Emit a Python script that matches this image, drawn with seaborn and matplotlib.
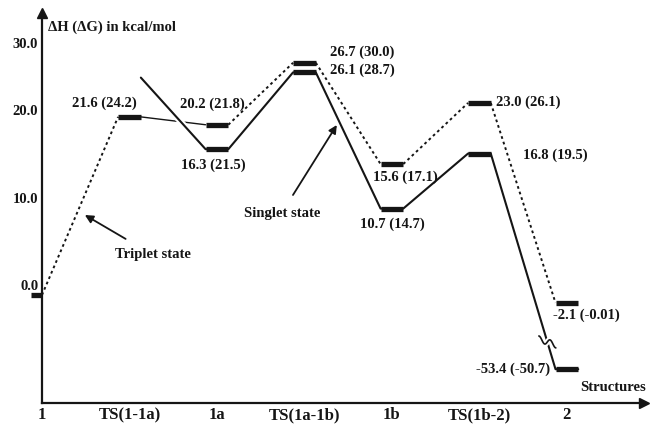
import numpy as np
import matplotlib
matplotlib.use("Agg")
import matplotlib.pyplot as plt
import matplotlib.patheffects as pe
from matplotlib.transforms import ScaledTranslation
import seaborn as sns

sns.set_theme(style="white")
plt.rcParams["font.family"] = ["Liberation Serif", "DejaVu Serif"]
plt.rcParams["font.weight"] = "bold"

# structures along the reaction coordinate
structures = ["1", "TS(1-1a)", "1a", "TS(1a-1b)", "1b", "TS(1b-2)", "2"]

# heights of the levels as drawn in the (schematic) diagram
triplet_levels = [0.0, 20.4, 19.5, 26.6, 15.0, 22.0, -0.9]
triplet_labels = ["", "21.6 (24.2)", "20.2 (21.8)", "26.7 (30.0)",
                  "15.6 (17.1)", "23.0 (26.1)", "-2.1 (-0.01)"]
triplet_links = [":", "-", ":", ":", ":", ":"]

singlet_start = 24.9
singlet_levels = [np.nan, np.nan, 16.7, 25.5, 9.9, 16.2, -8.5]
singlet_labels = ["", "", "16.3 (21.5)", "26.1 (28.7)",
                  "10.7 (14.7)", "16.8 (19.5)", "-53.4 (-50.7)"]

yticks = [0.0, 10.0, 20.0, 30.0]

# label placement (offset in pixels from the bar centre, alignment)
triplet_pos = [None, (-25, 14, "center"), (-5, 20, "center"), (26, 11, "left"),
               (13, -13, "center"), (17, 1, "left"), (-14, -12, "left")]
singlet_pos = [None, None, (-4, -16, "center"), (26, 2, "left"),
               (0, -16, "center"), (44, -2, "left"), (-17, 0, "right")]

ink = "#151515"
hw = 0.13          # half width of a level bar
x_axis_y = -12.37  # height where the x axis is drawn

fig = plt.figure(figsize=(6.5, 4.24), dpi=100)
ax = fig.add_axes([0, 0, 1, 1])
ax.set_xlim(-0.48, 6.95)
ax.set_ylim(-14.78, 33.79)

dotted = dict(color=ink, lw=1.4, linestyle=(0, (1.4, 1.6)))

# singlet path (solid), with a white halo so crossing lines look broken
sx = [1 + hw]
sy = [singlet_start]
for i, v in enumerate(singlet_levels):
    if not np.isnan(v):
        sx += [i - hw, i + hw]
        sy += [v, v]
sns.lineplot(x=sx, y=sy, sort=False, estimator=None, color=ink, lw=1.5, ax=ax,
             zorder=2,
             path_effects=[pe.Stroke(linewidth=4.5, foreground="white"), pe.Normal()])

# triplet path links
for i, style in enumerate(triplet_links):
    x_start = i if i == 0 else i + hw
    xs = [x_start, i + 1 - hw]
    ys = [triplet_levels[i], triplet_levels[i + 1]]
    if style == "-":
        ax.plot(xs, ys, color=ink, lw=1.0, zorder=1)
    else:
        ax.plot(xs, ys, zorder=3, **dotted)

# level bars
for i, v in enumerate(triplet_levels):
    right = i if i == 0 else i + hw
    ax.hlines(v, i - hw, right, color=ink, lw=3.8, zorder=4)
for i, v in enumerate(singlet_levels):
    if not np.isnan(v):
        ax.hlines(v, i - hw, i + hw, color=ink, lw=3.8, zorder=4)

# energy labels
for levels, labels, pos in [(triplet_levels, triplet_labels, triplet_pos),
                            (singlet_levels, singlet_labels, singlet_pos)]:
    for i, (v, lab, p) in enumerate(zip(levels, labels, pos)):
        if not lab:
            continue
        dx, dy, ha = p
        ax.annotate(lab, (i, v), xytext=(dx, dy), textcoords="offset pixels",
                    ha=ha, va="center", fontsize=10.5, fontweight="bold", color=ink)

# break mark on the singlet line towards 2
t = (singlet_levels[5] + 5.38) / (singlet_levels[5] - singlet_levels[6])
bx = 5 + hw + t * (1 - 2 * hw)
s = np.linspace(-8.5, 8.5, 60)
wx = bx + s / 87.5
wy = -5.38 + (3.0 * np.sin(2 * np.pi * s / 11) - 0.35 * s) / 8.73
ax.plot(wx, wy, color="white", lw=4, zorder=5, solid_capstyle="butt")
ax.plot(wx, wy, color=ink, lw=1.2, zorder=6)

# state annotations
ax.annotate("Triplet state", xy=(0.49, 9.16), xytext=(1.27, 4.58),
            ha="center", va="center", fontsize=10.5, fontweight="bold", color=ink,
            arrowprops=dict(arrowstyle="-|>", color=ink, lw=1.3, mutation_scale=12,
                            shrinkA=9, shrinkB=0))
ax.annotate("Singlet state", xy=(3.37, 19.47), xytext=(2.74, 9.39),
            ha="center", va="center", fontsize=10.5, fontweight="bold", color=ink,
            arrowprops=dict(arrowstyle="-|>", color=ink, lw=1.3, mutation_scale=12,
                            shrinkA=7, shrinkB=0))

# axes drawn as arrows
ax.spines[["top", "right"]].set_visible(False)
ax.spines["left"].set_position(("data", 0))
ax.spines["bottom"].set_position(("data", x_axis_y))
ax.spines["left"].set_bounds(x_axis_y, 32.0)
ax.spines["bottom"].set_bounds(0, 6.85)
for sp in ["left", "bottom"]:
    ax.spines[sp].set_color(ink)
    ax.spines[sp].set_linewidth(1.6)
ax.plot(0, 32.3, marker="^", ms=7, color=ink, clip_on=False, zorder=6)
ax.plot(6.88, x_axis_y, marker=">", ms=7, color=ink, clip_on=False, zorder=6)

ax.set_xticks(range(len(structures)))
ax.set_xticklabels(structures, fontsize=12, fontweight="bold", color=ink)
ax.tick_params(axis="x", direction="in", length=5.5, width=1.1, pad=3, color=ink)

ax.set_yticks(yticks)
ax.set_yticklabels([f"{v:.1f}" for v in yticks], fontsize=10.5, fontweight="bold", color=ink)
ax.tick_params(axis="y", direction="out", length=4.5, width=1.2, pad=-1.8, color=ink)
for lab, v in zip(ax.get_yticklabels(), yticks):
    dy = -0.10 if v == yticks[-1] else 0.10
    lab.set_transform(lab.get_transform() + ScaledTranslation(0, dy, fig.dpi_scale_trans))

ax.text(0.07, 30.7, "ΔH (ΔG) in kcal/mol", ha="left", va="center",
        fontsize=10.5, fontweight="bold", color=ink)
ax.text(6.15, -10.65, "Structures", ha="left", va="center",
        fontsize=10.5, fontweight="bold", color=ink)

fig.savefig("out.png", dpi=100)
